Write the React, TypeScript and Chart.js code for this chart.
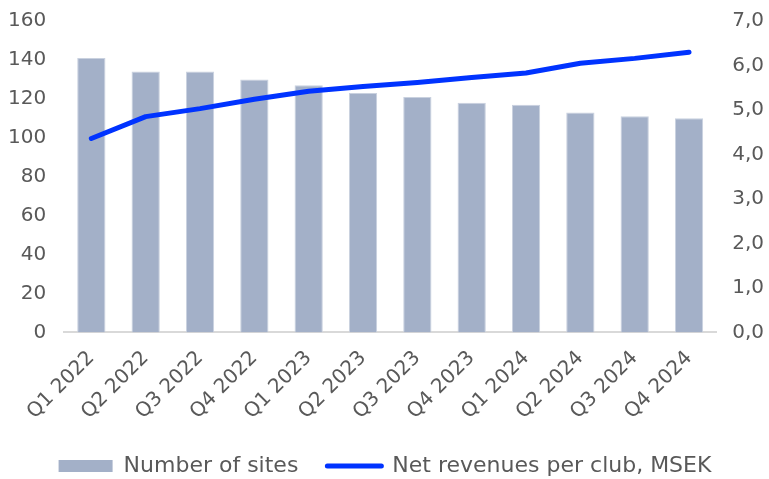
import React, { useEffect, useRef } from "react";
import { Chart, registerables } from "chart.js";

Chart.register(...registerables);

const categories = ["Q1 2022", "Q2 2022", "Q3 2022", "Q4 2022", "Q1 2023", "Q2 2023", "Q3 2023", "Q4 2023", "Q1 2024", "Q2 2024", "Q3 2024", "Q4 2024"];
const sites = [141, 134, 134, 130, 127, 123, 121, 118, 117, 113, 111, 110];
const revenuePerClub = [4.36, 4.85, 5.03, 5.24, 5.42, 5.53, 5.62, 5.73, 5.83, 6.05, 6.16, 6.3];

const FONT = "'DejaVu Sans', sans-serif";
const TEXT = "#595959";

const noPad = (s: any) => {
  s.paddingLeft = 0;
  s.paddingRight = 0;
  s.paddingTop = 0;
  s.paddingBottom = 0;
};

export default function App() {
  const ref = useRef<HTMLCanvasElement>(null);
  useEffect(() => {
    const chart = new Chart(ref.current!, {
      data: {
        labels: categories,
        datasets: [
          {
            type: "line",
            label: "Net revenues per club, MSEK",
            data: revenuePerClub,
            yAxisID: "y1",
            borderColor: "#0033ff",
            backgroundColor: "#0033ff",
            borderWidth: 5,
            pointRadius: 0,
            borderCapStyle: "round",
            borderJoinStyle: "round",
            tension: 0,
            order: 0,
          },
          {
            type: "bar",
            label: "Number of sites",
            data: sites,
            yAxisID: "y",
            backgroundColor: "#a3b0c8",
            borderColor: "#c9d1df",
            borderWidth: 1,
            categoryPercentage: 1,
            barPercentage: 0.52,
            order: 1,
          },
        ],
      },
      options: {
        responsive: false,
        animation: false,
        layout: { padding: { left: -10, right: -11, top: 21, bottom: -8 } },
        scales: {
          x: {
            afterFit: (s: any) => {
              noPad(s);
              s.height -= 12;
            },
            grid: { display: false, drawTicks: false },
            border: { display: true, color: "#d9d9d9", width: 2 },
            ticks: { color: TEXT, font: { family: FONT, size: 20 }, minRotation: 45, maxRotation: 45, padding: 14 },
          },
          y: {
            afterFit: noPad,
            position: "left",
            min: 0,
            max: 160,
            grid: { display: false, drawTicks: false },
            border: { display: false },
            ticks: { stepSize: 20, color: TEXT, font: { family: FONT, size: 20 }, padding: 18 },
          },
          y1: {
            afterFit: noPad,
            position: "right",
            min: 0,
            max: 7,
            grid: { display: false, drawTicks: false },
            border: { display: false },
            ticks: {
              stepSize: 1,
              color: TEXT,
              font: { family: FONT, size: 20 },
              padding: 16,
              callback: (v: any) => Number(v).toFixed(1).replace(".", ","),
            },
          },
        },
        plugins: {
          tooltip: { enabled: false },
          legend: {
            position: "bottom",
            labels: {
              color: TEXT,
              font: { family: FONT, size: 22 },
              usePointStyle: true,
              pointStyleWidth: 54,
              boxHeight: 12,
              padding: 29,
              generateLabels: (c: any) => [
                {
                  text: "Number of sites",
                  fillStyle: "#a3b0c8",
                  strokeStyle: "#a3b0c8",
                  lineWidth: 0,
                  pointStyle: "rect",
                  datasetIndex: 1,
                  fontColor: TEXT,
                },
                {
                  text: "Net revenues per club, MSEK",
                  fillStyle: "#0033ff",
                  strokeStyle: "#0033ff",
                  lineWidth: 5,
                  lineCap: "round",
                  pointStyle: "line",
                  datasetIndex: 0,
                  fontColor: TEXT,
                },
              ],
            },
          },
        },
      },
    } as any);
    return () => chart.destroy();
  }, []);
  return (
    <div style={{ position: "fixed", left: 0, top: 0, width: 769, height: 479, background: "#fff" }}>
      <canvas ref={ref} width={769} height={479} />
    </div>
  );
}
